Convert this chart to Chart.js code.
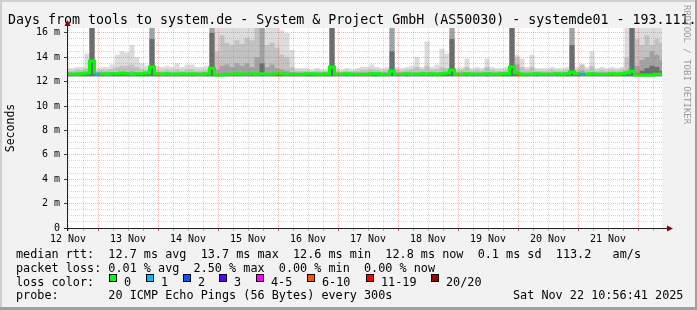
<!DOCTYPE html>
<html lang="en">
<head>
<meta charset="utf-8">
<script src="https://cdn.jsdelivr.net/npm/chart.js@4.4.0/dist/chart.umd.min.js"></script>
<title>systemde01 - days</title>
<style>
  html, body { margin: 0; padding: 0; background: #f2f2f2; overflow: hidden; }
  canvas { display: block; }
</style>
</head>
<body>
<canvas id="chart" width="697" height="310"></canvas>
<script>
// x = hours since 12 Nov 00:00, every smoke bin covers 2 hours
const binStart = 10.6;
const binHours = 2;

const xTickLabels = ['12 Nov', '13 Nov', '14 Nov', '15 Nov', '16 Nov',
                     '17 Nov', '18 Nov', '19 Nov', '20 Nov', '21 Nov'];
const yTickValues = [0, 2, 4, 6, 8, 10, 12, 14, 16];
const yTickLabels = ['0', '2 m', '4 m', '6 m', '8 m', '10 m', '12 m', '14 m', '16 m'];

// median rtt (ms), one row per day
const median = [
  12.65, 12.6, 12.6, 12.65, 12.7, 13.7, 12.6, 12.65, 12.6, 12.65, 12.65, 12.7,
  12.65, 12.6, 12.65, 12.65, 12.7, 13.2, 12.65, 12.6, 12.65, 12.6, 12.6, 12.65,
  12.6, 12.65, 12.6, 12.6, 12.65, 13.1, 12.55, 12.55, 12.6, 12.6, 12.65, 12.6,
  12.6, 12.65, 12.6, 12.65, 12.6, 12.6, 12.65, 12.65, 12.6, 12.6, 12.6, 12.6,
  12.65, 12.65, 12.6, 12.6, 12.65, 13.2, 12.6, 12.6, 12.65, 12.6, 12.6, 12.6,
  12.6, 12.65, 12.65, 12.6, 12.6, 12.85, 12.6, 12.6, 12.65, 12.6, 12.6, 12.65,
  12.6, 12.65, 12.6, 12.65, 12.7, 12.95, 12.6, 12.6, 12.65, 12.6, 12.6, 12.6,
  12.65, 12.6, 12.6, 12.65, 12.65, 13.2, 12.7, 12.6, 12.6, 12.6, 12.65, 12.6,
  12.6, 12.6, 12.65, 12.6, 12.65, 12.8, 12.65, 12.6, 12.6, 12.65, 12.6, 12.6,
  12.6, 12.65, 12.6, 12.65, 12.7, 12.85, 12.55, 12.55, 12.55, 12.55, 12.6, 12.6
];

// lost pings per bin (index into lossColors)
const lossIdx = [
  0, 0, 0, 0, 0, 0, 1, 0, 0, 0, 0, 0,
  0, 0, 0, 0, 0, 0, 0, 0, 0, 0, 0, 0,
  0, 0, 0, 0, 0, 0, 0, 0, 0, 0, 0, 0,
  0, 0, 0, 0, 0, 0, 0, 0, 0, 0, 0, 0,
  0, 0, 0, 0, 0, 0, 0, 0, 0, 0, 0, 0,
  0, 0, 0, 0, 0, 0, 0, 0, 0, 0, 0, 0,
  0, 0, 0, 0, 0, 0, 0, 0, 0, 0, 0, 0,
  0, 0, 0, 0, 0, 0, 0, 0, 0, 0, 0, 0,
  0, 0, 0, 0, 0, 0, 0, 1, 0, 0, 0, 0,
  0, 0, 0, 0, 0, 0, 0, 0, 0, 0, 0, 0
];

// smoke: top of each grey layer (ms), lightest first
const smokeMax = [
  13.1, 13.1, 13.2, 13.2, 14.3, 16.5, 13.1, 13.2, 13.2, 13.4, 14.2, 14.5,
  14.4, 15.0, 14.0, 13.5, 13.3, 16.5, 13.3, 13.2, 13.3, 13.2, 13.5, 13.2,
  13.4, 13.4, 13.2, 13.2, 13.3, 16.5, 16.5, 16.5, 16.5, 16.5, 16.5, 16.5,
  16.5, 16.5, 16.5, 16.5, 16.5, 16.5, 16.5, 16.2, 16.0, 14.6, 13.1, 13.1,
  13.1, 13.0, 13.1, 13.0, 13.0, 16.5, 13.1, 13.0, 13.1, 13.0, 13.1, 13.2,
  13.2, 13.4, 13.2, 13.1, 13.2, 16.5, 13.2, 13.1, 13.2, 13.3, 14.0, 13.2,
  15.3, 13.2, 13.4, 14.7, 14.3, 16.5, 13.1, 13.2, 13.9, 13.1, 13.2, 13.1,
  13.9, 13.2, 13.1, 13.1, 13.2, 16.5, 14.2, 13.9, 13.2, 14.2, 13.1, 13.1,
  13.1, 13.2, 13.1, 13.1, 13.2, 16.5, 13.2, 13.4, 13.2, 14.5, 13.1, 13.2,
  13.1, 13.2, 13.1, 13.2, 16.5, 16.5, 16.5, 16.5, 16.5, 16.5, 16.5, 16.5
];
const smokeQ3 = [
  12.9, 12.9, 12.95, 12.95, 13.1, 16.5, 12.9, 12.95, 12.95, 13.0, 13.2, 13.3,
  13.3, 13.4, 13.2, 13.0, 12.95, 16.5, 12.95, 12.9, 12.95, 12.9, 13.0, 12.9,
  13.0, 13.0, 12.9, 12.9, 12.95, 16.5, 14.5, 15.8, 15.2, 15.0, 15.4, 15.1,
  15.6, 15.4, 16.5, 16.5, 15.0, 15.2, 14.8, 14.2, 14.0, 13.2, 12.9, 12.9,
  12.9, 12.85, 12.9, 12.85, 12.9, 16.5, 12.9, 12.85, 12.9, 12.85, 12.9, 12.95,
  12.95, 13.0, 12.95, 12.9, 12.95, 16.5, 12.95, 12.9, 12.95, 13.0, 13.2, 12.95,
  13.3, 12.95, 13.0, 13.2, 13.1, 16.5, 12.9, 12.95, 13.2, 12.9, 12.95, 12.9,
  13.2, 12.95, 12.9, 12.9, 12.95, 16.5, 14.0, 13.2, 12.95, 13.2, 12.9, 12.9,
  12.9, 12.95, 12.9, 12.9, 12.95, 16.5, 12.95, 13.4, 12.95, 13.3, 12.9, 12.95,
  12.9, 12.95, 12.9, 12.95, 14.0, 16.5, 15.5, 15.0, 15.8, 15.0, 15.5, 15.2
];
const smokeQ2 = [
  12.75, 12.75, 12.75, 12.75, 12.8, 16.5, 12.75, 12.75, 12.75, 12.75, 12.8, 12.8,
  12.8, 12.85, 12.8, 12.75, 12.75, 16.5, 12.75, 12.75, 12.75, 12.75, 12.75, 12.75,
  12.75, 12.75, 12.75, 12.75, 12.75, 16.5, 13.0, 13.3, 13.4, 13.2, 13.5, 13.3,
  13.5, 13.2, 14.0, 16.5, 13.2, 13.4, 13.1, 13.0, 12.9, 12.8, 12.75, 12.75,
  12.75, 12.75, 12.75, 12.75, 12.75, 16.5, 12.75, 12.75, 12.75, 12.75, 12.75, 12.75,
  12.75, 12.75, 12.75, 12.75, 12.75, 16.5, 12.75, 12.75, 12.75, 12.75, 12.75, 12.75,
  12.8, 12.75, 12.75, 12.8, 12.8, 16.5, 12.75, 12.75, 12.75, 12.75, 12.75, 12.75,
  12.75, 12.75, 12.75, 12.75, 12.75, 16.5, 13.4, 12.75, 12.75, 12.75, 12.75, 12.75,
  12.75, 12.75, 12.75, 12.75, 12.75, 16.5, 12.75, 12.9, 12.75, 12.75, 12.75, 12.75,
  12.75, 12.75, 12.75, 12.75, 12.9, 16.5, 13.3, 13.8, 14.0, 14.5, 14.2, 13.8
];
const smokeQ1 = [
  12.6, 12.6, 12.6, 12.6, 12.6, 16.5, 12.6, 12.6, 12.6, 12.6, 12.6, 12.6,
  12.6, 12.6, 12.6, 12.6, 12.6, 15.5, 12.6, 12.6, 12.6, 12.6, 12.6, 12.6,
  12.6, 12.6, 12.6, 12.6, 12.6, 16.0, 12.6, 12.6, 12.65, 12.6, 12.65, 12.6,
  12.65, 12.6, 12.7, 13.5, 12.6, 12.65, 12.6, 12.6, 12.6, 12.6, 12.6, 12.6,
  12.6, 12.6, 12.6, 12.6, 12.6, 16.5, 12.6, 12.6, 12.6, 12.6, 12.6, 12.6,
  12.6, 12.6, 12.6, 12.6, 12.6, 14.5, 12.6, 12.6, 12.6, 12.6, 12.6, 12.6,
  12.6, 12.6, 12.6, 12.6, 12.6, 15.5, 12.6, 12.6, 12.6, 12.6, 12.6, 12.6,
  12.6, 12.6, 12.6, 12.6, 12.6, 16.5, 12.7, 12.6, 12.6, 12.6, 12.6, 12.6,
  12.6, 12.6, 12.6, 12.6, 12.6, 15.0, 12.6, 12.7, 12.6, 12.6, 12.6, 12.6,
  12.6, 12.6, 12.6, 12.6, 12.6, 16.5, 12.7, 12.9, 13.1, 13.3, 13.2, 12.9
];
const smokeFloor = 12.45;

const lossColors = ['#00ff00', '#00b8ff', '#0059ff', '#5e00ff', '#ff00ff', '#ff5500', '#ff0000', '#a10000'];
const lossLabels = ['0', '1', '2', '3', '4-5', '6-10', '11-19', '20/20'];

const rttStats = ['12.7 ms avg', '13.7 ms max', '12.6 ms min', '12.8 ms now', '0.1 ms sd'];
const rateText = '113.2   am/s';
const lossStats = ['0.01 % avg', '2.50 % max', '0.00 % min', '0.00 % now'];
const probeText = '20 ICMP Echo Pings (56 Bytes) every 300s';
const stampText = 'Sat Nov 22 10:56:41 2025';
const titleText = 'Days from tools to system.de - System & Project GmbH (AS50030) - systemde01 - 193.111.';

const MONO = '"DejaVu Sans Mono", monospace';
const majorGrid = 'rgba(255,60,60,0.4)';
const minorGrid = 'rgba(140,140,140,0.35)';

// hold every value over its whole bin
function steps(arr) {
    const pts = arr.map((v, i) => ({x: binStart + i * binHours, y: v}));
    pts.push({x: binStart + arr.length * binHours, y: arr[arr.length - 1]});
    return pts;
}

function smoke(arr, color, order) {
    return {
        data: steps(arr), stepped: true, order: order,
        borderWidth: 0, borderColor: 'transparent', pointRadius: 0,
        backgroundColor: color, fill: {value: smokeFloor},
    };
}

// page frame, title, labels and legend
const frame = {
    id: 'frame',
    beforeDraw(chart) {
        const ctx = chart.ctx;
        const a = chart.chartArea;
        ctx.save();
        ctx.fillStyle = '#f2f2f2';
        ctx.fillRect(0, 0, 697, 310);
        ctx.fillStyle = '#cfcfcf';
        ctx.fillRect(0, 0, 697, 2);
        ctx.fillRect(0, 0, 2, 310);
        ctx.fillStyle = '#a0a0a0';
        ctx.fillRect(695, 0, 2, 310);
        ctx.fillRect(0, 307, 697, 3);
        ctx.fillStyle = '#ffffff';
        ctx.fillRect(a.left, a.top, a.right - a.left, a.bottom - a.top);

        ctx.fillStyle = '#000';
        ctx.font = '13.3px ' + MONO;
        ctx.textBaseline = 'alphabetic';
        ctx.fillText(titleText, 8, 24);
        ctx.restore();
    },
    afterDraw(chart) {
        const ctx = chart.ctx;
        const a = chart.chartArea;
        ctx.save();
        // axes with arrows
        ctx.strokeStyle = '#202020';
        ctx.lineWidth = 1;
        ctx.beginPath();
        ctx.moveTo(a.left + 0.5, a.bottom + 3);
        ctx.lineTo(a.left + 0.5, 24);
        ctx.moveTo(a.left - 3, a.bottom + 0.5);
        ctx.lineTo(669, a.bottom + 0.5);
        ctx.stroke();
        ctx.fillStyle = '#8b0000';
        ctx.beginPath();
        ctx.moveTo(a.left - 2.5, 26);
        ctx.lineTo(a.left + 3.5, 26);
        ctx.lineTo(a.left + 0.5, 20);
        ctx.closePath();
        ctx.fill();
        ctx.beginPath();
        ctx.moveTo(667, a.bottom - 2.5);
        ctx.lineTo(667, a.bottom + 3.5);
        ctx.lineTo(673, a.bottom + 0.5);
        ctx.closePath();
        ctx.fill();

        // y axis title
        ctx.fillStyle = '#000';
        ctx.font = '11.5px ' + MONO;
        ctx.textAlign = 'center';
        ctx.save();
        ctx.translate(14, 128);
        ctx.rotate(-Math.PI / 2);
        ctx.fillText('Seconds', 0, 0);
        ctx.restore();

        // watermark
        ctx.save();
        ctx.fillStyle = '#9a9a9a';
        ctx.font = '9px ' + MONO;
        ctx.textAlign = 'left';
        ctx.translate(684, 5);
        ctx.rotate(Math.PI / 2);
        ctx.fillText('RRDTOOL / TOBI OETIKER', 0, 0);
        ctx.restore();

        // legend, monospace rows
        ctx.textAlign = 'left';
        ctx.font = '11.8px ' + MONO;
        ctx.fillStyle = '#000';
        ctx.fillText('median rtt:  ' + rttStats.join('  ') + '  ' + rateText, 16, 258);
        ctx.fillText('packet loss: ' + lossStats.join('  '), 16, 271.7);
        ctx.fillText('loss color:', 16, 285.5);
        const boxX = [109, 146, 183, 219, 256, 307, 366, 431];
        lossLabels.forEach((s, i) => {
            ctx.fillStyle = lossColors[i];
            ctx.fillRect(boxX[i], 274, 8, 8);
            ctx.strokeStyle = '#000';
            ctx.strokeRect(boxX[i] + 0.5, 274.5, 7, 7);
            ctx.fillStyle = '#000';
            ctx.fillText(s, boxX[i] + 15, 285.5);
        });
        ctx.fillText('probe:       ' + probeText, 16, 299.3);
        ctx.fillText(stampText, 513, 299.3);
        ctx.restore();
    }
};

const ctx = document.getElementById('chart');
new Chart(ctx, {
    type: 'line',
    data: {
        datasets: [
            {
                data: steps(median), stepped: true, order: 0,
                borderWidth: 3, pointRadius: 0, fill: false,
                borderColor: lossColors[0],
                segment: {
                    borderColor: c => lossColors[lossIdx[Math.min(c.p0DataIndex, lossIdx.length - 1)]],
                },
            },
            {
                data: steps(median), stepped: true, order: 1,
                borderWidth: 1, pointRadius: 0, fill: false, borderColor: '#202020',
            },
            smoke(smokeQ1, '#6c6c6c', 2),
            smoke(smokeQ2, '#a2a2a2', 3),
            smoke(smokeQ3, '#c2c2c2', 4),
            smoke(smokeMax, '#dcdcdc', 5),
        ],
    },
    options: {
        responsive: false,
        animation: false,
        events: [],
        layout: { padding: { left: 0, top: 28, right: 35, bottom: 0 } },
        plugins: { legend: { display: false }, tooltip: { enabled: false } },
        scales: {
            x: {
                type: 'linear', min: 11.6, max: 249.6,
                afterBuildTicks: s => {
                    const t = [];
                    for (let h = 12; h <= 246; h += 6) t.push({value: h});
                    s.ticks = t;
                },
                afterFit: s => { s.height = 82; },
                grid: {
                    z: 1, lineWidth: 1, drawTicks: true, tickLength: 3,
                    color: c => (c.tick && c.tick.value % 24 === 0) ? majorGrid : minorGrid,
                    tickColor: c => (c.tick && c.tick.value % 24 === 0) ? '#e06060' : '#b0b0b0',
                },
                border: { display: false, dash: [1, 1] },
                ticks: {
                    autoSkip: false, maxRotation: 0, padding: 2, color: '#000',
                    font: { family: 'DejaVu Sans Mono', size: 10 },
                    callback: v => ((v - 12) % 24 === 0) ? xTickLabels[(v - 12) / 24] : '',
                },
            },
            y: {
                type: 'linear', min: 0, max: 16.4,
                afterBuildTicks: s => {
                    const t = [];
                    for (let k = 0; k <= 32; k++) t.push({value: k * 0.5});
                    s.ticks = t;
                },
                afterFit: s => { s.width = 67; },
                grid: {
                    z: 1, lineWidth: 1, drawTicks: true, tickLength: 3,
                    color: c => (c.tick && c.tick.value % 2 === 0) ? majorGrid : minorGrid,
                    tickColor: c => (c.tick && c.tick.value % 2 === 0) ? '#404040' : 'transparent',
                },
                border: { display: false, dash: [1, 1] },
                ticks: {
                    autoSkip: false, padding: 4, color: '#000',
                    font: { family: 'DejaVu Sans Mono', size: 10 },
                    callback: v => {
                        const k = yTickValues.indexOf(v);
                        return k >= 0 ? yTickLabels[k] : '';
                    },
                },
            },
        },
    },
    plugins: [frame],
});
</script>
</body>
</html>
